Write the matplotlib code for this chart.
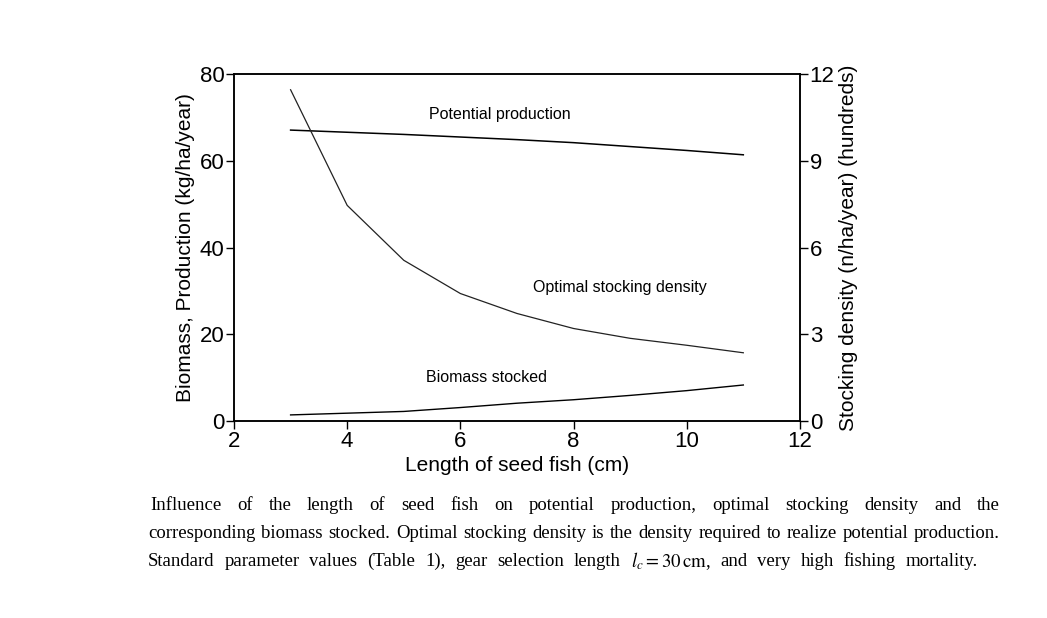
import numpy as np
import matplotlib.pyplot as plt

plt.rcParams['font.family'] = ['Liberation Sans', 'DejaVu Sans']
plt.rcParams['mathtext.fontset'] = 'stix'

# values
length = [3, 4, 5, 6, 7, 8, 9, 10, 11]                               # cm
potential = [67.1, 66.6, 66.1, 65.5, 64.9, 64.2, 63.3, 62.4, 61.4]   # kg/ha/year
stocked = [1.4, 1.8, 2.2, 3.1, 4.1, 4.9, 5.9, 7.0, 8.3]              # kg/ha/year
density = [11.46, 7.46, 5.56, 4.41, 3.72, 3.2, 2.86, 2.62, 2.36]     # hundreds n/ha/year

fig = plt.figure(figsize=(10.47, 6.18), dpi=100)
ax1 = fig.add_axes([0.2235, 0.3188, 0.5405, 0.5612])
ax2 = ax1.twinx()

ax1.plot(length, potential, color='black', lw=1.1)
ax1.plot(length, stocked, color='black', lw=1.0)
ax2.plot(length, density, color='#222222', lw=0.9)

ax1.set_xlim(2, 12)
ax1.set_ylim(0, 80)
ax2.set_ylim(0, 12)
ax1.set_xticks([2, 4, 6, 8, 10, 12])
ax1.set_yticks([0, 20, 40, 60, 80])
ax2.set_yticks([0, 3, 6, 9, 12])

for a in (ax1, ax2):
    a.tick_params(direction='out', length=6, width=1, labelsize=16, pad=1)
    for s in a.spines.values():
        s.set_linewidth(1.1)

ax1.set_xlabel('Length of seed fish (cm)', fontsize=15, labelpad=3)
ax1.set_ylabel('Biomass, Production (kg/ha/year)', fontsize=15, labelpad=3)
ax2.set_ylabel('Stocking density (n/ha/year) (hundreds)', fontsize=15, labelpad=3)

ax1.text(6.7, 70.7, 'Potential production', fontsize=11.5, ha='center', va='center')
ax1.text(8.82, 30.8, 'Optimal stocking density', fontsize=11.5, ha='center', va='center')
ax1.text(6.47, 10.1, 'Biomass stocked', fontsize=11.5, ha='center', va='center')

# caption, justified like the printed page
caption = [
    ['Influence', 'of', 'the', 'length', 'of', 'seed', 'fish', 'on', 'potential', 'production,',
     'optimal', 'stocking', 'density', 'and', 'the'],
    ['corresponding', 'biomass', 'stocked.', 'Optimal', 'stocking', 'density', 'is', 'the',
     'density', 'required', 'to', 'realize', 'potential', 'production.'],
    ['Standard', 'parameter', 'values', '(Table', '1),', 'gear', 'selection', 'length',
     r'$l_c = 30\,\mathrm{cm}$,', 'and', 'very', 'high', 'fishing', 'mortality.'],
]
line_y = [505, 533, 561]
line_x0 = [150, 148, 148]
line_x1 = [1000, 1000, 978]

renderer = fig.canvas.get_renderer()
for words, y, x0, x1 in zip(caption, line_y, line_x0, line_x1):
    texts = [fig.text(0, 1 - y / 618, w, family='Liberation Serif', fontsize=13.5,
                      ha='left', va='center') for w in words]
    widths = [t.get_window_extent(renderer).width for t in texts]
    gap = (x1 - x0 - sum(widths)) / (len(words) - 1)
    x = x0
    for t, w in zip(texts, widths):
        t.set_x(x / 1047)
        x += w + gap

fig.savefig('out.png', dpi=100)
